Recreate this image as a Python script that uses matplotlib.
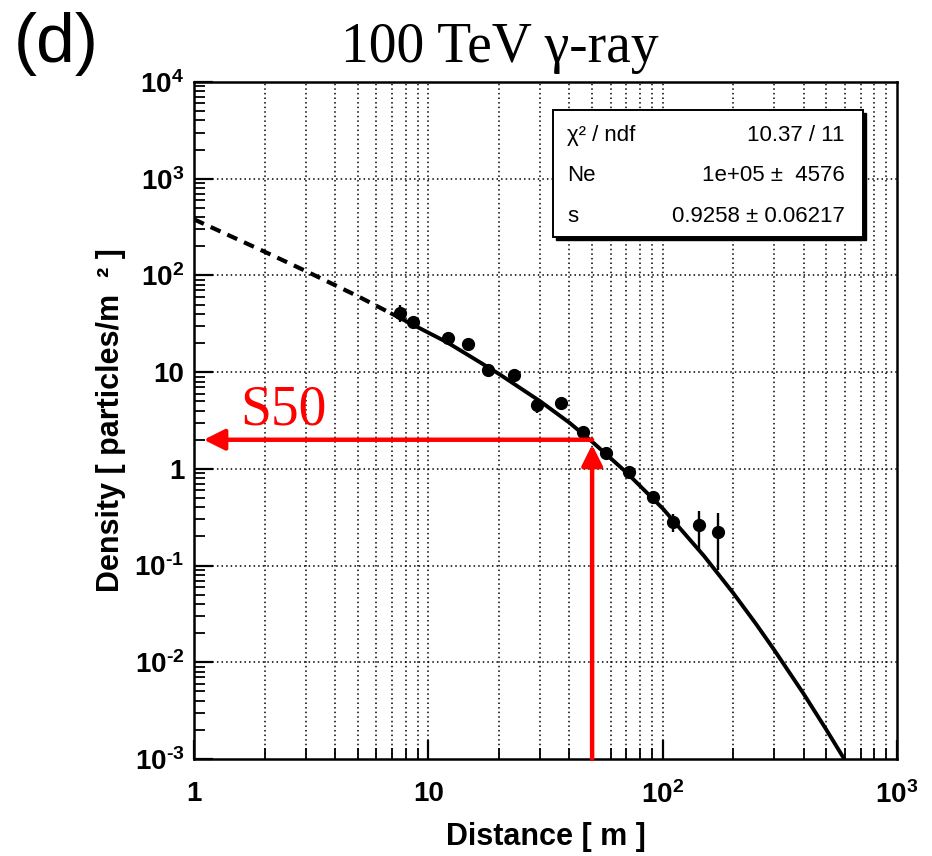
import matplotlib
matplotlib.use('Agg')
import matplotlib.pyplot as plt
from matplotlib.patches import Rectangle
from matplotlib.ticker import LogLocator, NullFormatter

# Messpunkte (Distanz in m, Dichte in Teilchen/m^2)
dist = [7.6, 8.6, 12.1, 14.7, 18.0, 23.1, 29.2, 36.7, 45.5, 57.1, 71.6, 90.6, 111, 143, 173]
dens = [41, 33, 22.6, 19.6, 10.5, 9.4, 4.6, 4.8, 2.4, 1.46, 0.93, 0.51, 0.28, 0.26, 0.22]
dens_err = [8, 4, 3, 2, 1.3, 1.0, 0.8, 0.5, 0.25, 0.15, 0.1, 0.07, 0.06, 0.11, 0.13]

# Fitkurve, gestrichelt unterhalb von 7 m
fit_x = [1, 2, 3, 5, 7, 10, 12, 15, 20, 30, 40, 50, 70, 100, 150, 200, 250, 300, 400, 500, 600]
fit_y = [380, 176, 111, 61, 40, 25.6, 20.4, 14.7, 9.6, 5.0, 3.0, 1.91, 0.92, 0.39, 0.126, 0.052,
         0.025, 0.0133, 0.0047, 0.002, 0.00097]

# S50-Markierung
s50_x = 50
s50_y = 2.0

xticks = [1, 10, 100, 1000]
xtick_labels = ['1', '10', '10$^{2}$', '10$^{3}$']
yticks = [1e-3, 1e-2, 1e-1, 1, 10, 100, 1e3, 1e4]
ytick_labels = ['10$^{\u20103}$', '10$^{\u20102}$', '10$^{\u20101}$', '1', '10',
                '10$^{2}$', '10$^{3}$', '10$^{4}$']

stat_names = ['χ² / ndf', 'Ne', 's']
stat_values = ['10.37 / 11', '1e+05 ±  4576', '0.9258 ± 0.06217']

plt.rcParams['font.family'] = ['Liberation Sans', 'DejaVu Sans']
plt.rcParams['mathtext.default'] = 'regular'

fig = plt.figure(figsize=(9.32, 8.56), dpi=100)
ax = fig.add_axes([194 / 932, 1 - 759 / 856, 703 / 932, 677 / 856])
ax.set_xscale('log')
ax.set_yscale('log')
ax.set_xlim(1, 1000)
ax.set_ylim(1e-3, 1e4)

# Gitter: vertikal auch an Nebenstrichen, horizontal nur an Dekaden
for v in [a * 10 ** e for e in range(0, 3) for a in range(1, 10)][1:]:
    ax.axvline(v, color='black', lw=1.1, ls=(0, (1, 2)), zorder=0)
for h in yticks[1:-1]:
    ax.axhline(h, color='black', lw=1.1, ls=(0, (1, 2)), zorder=0)

# Fitkurve
n_dash = len([x for x in fit_x if x <= 7])
ax.plot(fit_x[:n_dash], fit_y[:n_dash], color='black', lw=3.0, ls=(0, (2.6, 1.8)), zorder=3)
ax.plot(fit_x[n_dash - 1:], fit_y[n_dash - 1:], color='black', lw=2.8, zorder=3)

# Datenpunkte
ax.errorbar(dist, dens, yerr=dens_err, fmt='o', color='black', ms=8.5,
            elinewidth=1.7, capsize=0, zorder=4)

# rote Pfeile
arrow = dict(arrowstyle='-|>,head_length=0.9,head_width=0.45', lw=3.2, color='red',
             mutation_scale=14, shrinkA=0, shrinkB=0)
ax.annotate('', xy=(1.1, s50_y), xytext=(s50_x, s50_y), arrowprops=arrow, zorder=5)
ax.annotate('', xy=(s50_x, 1.78), xytext=(s50_x, 1e-3), arrowprops=arrow, zorder=5)
ax.text(1.57, 2.9, 'S50', color='red', fontsize=40, family='Liberation Serif',
        ha='left', va='baseline', zorder=5)

# Achsen
ax.set_xticks(xticks, xtick_labels, fontweight='bold')
ax.set_yticks(yticks, ytick_labels, fontweight='bold')
ax.xaxis.set_minor_locator(LogLocator(base=10, subs=range(2, 10), numticks=20))
ax.yaxis.set_minor_locator(LogLocator(base=10, subs=range(2, 10), numticks=20))
ax.xaxis.set_minor_formatter(NullFormatter())
ax.yaxis.set_minor_formatter(NullFormatter())
ax.tick_params(which='major', direction='in', length=14, width=1.6, labelsize=20,
               top=False, right=False)
ax.tick_params(which='minor', direction='in', length=8, width=1.3, top=False, right=False)
ax.tick_params(axis='x', which='major', pad=16)
ax.tick_params(axis='y', which='major', pad=7)
for sp in ax.spines.values():
    sp.set_linewidth(1.8)

ax.set_xlabel('Distance [ m ]', fontsize=22, fontweight='bold', labelpad=9)
ax.set_ylabel('Density [ particles/m  ² ]', fontsize=22, fontweight='bold', labelpad=6)

# Statistikbox mit Schatten
bx0, bx1, by0, by1 = 0.5107, 0.9516, 0.7710, 0.9586
ax.add_patch(Rectangle((bx0 + 0.004, by0 - 0.004), bx1 - bx0, by1 - by0,
                       transform=ax.transAxes, facecolor='black', edgecolor='black', zorder=6))
ax.add_patch(Rectangle((bx0, by0), bx1 - bx0, by1 - by0, transform=ax.transAxes,
                       facecolor='white', edgecolor='black', lw=1.4, zorder=7))
row_y = [0.9217, 0.8626, 0.8006]
for name, val, yy in zip(stat_names, stat_values, row_y):
    ax.text(0.5306, yy, name, transform=ax.transAxes, fontsize=16, ha='left', va='center', zorder=8)
    ax.text(0.926, yy, val, transform=ax.transAxes, fontsize=16, ha='right', va='center', zorder=8)

fig.text(500 / 932, 1 - 62 / 856, '100 TeV γ-ray', fontsize=40, family='Liberation Serif',
         ha='center', va='baseline')
fig.text(14 / 932, 1 - 44 / 856, '(d)', fontsize=50, ha='left', va='center')

fig.savefig('out.png', dpi=100)
